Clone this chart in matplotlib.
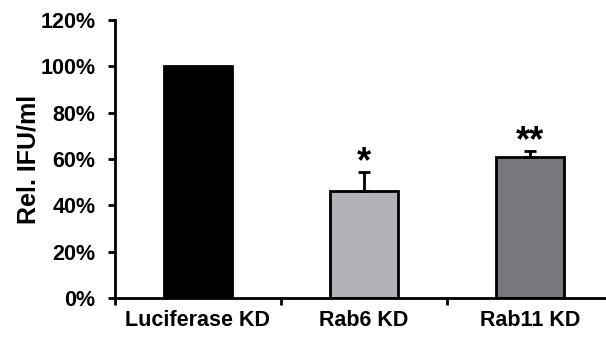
import numpy as np
import matplotlib.pyplot as plt
from matplotlib.ticker import FixedLocator, FuncFormatter

# relative infectious units per ml after knockdown
groups = ['Luciferase KD', 'Rab6 KD', 'Rab11 KD']
values = [1.00, 0.46, 0.61]
errors = [0.0, 0.083, 0.026]
stars = ['', '*', '**']
colors = ['#000000', '#b1b3b6', '#77787b']

plt.rcParams['font.family'] = ['Liberation Sans', 'DejaVu Sans']
plt.rcParams['font.weight'] = 'bold'

fig = plt.figure(figsize=(6.06, 3.4), dpi=100)
ax = fig.add_axes([115 / 606, 42 / 340, 498 / 606, 278 / 340])

x = np.arange(len(groups))
ax.bar(x, values, width=0.41, color=colors, edgecolor='black', linewidth=2, zorder=2)
for xi, v, e, s in zip(x, values, errors, stars):
    if e > 0:
        ax.errorbar(xi, v, yerr=[[0], [e]], fmt='none', ecolor='black',
                    elinewidth=2, capsize=4, capthick=2, zorder=3)
    if s:
        ax.text(xi, v + e - 0.035, s, ha='center', va='bottom',
                fontsize=26, fontweight='bold')

ax.set_xlim(-0.5, 2.5)
ax.set_ylim(0, 1.2)
ax.set_yticks(np.arange(0, 1.21, 0.2))
ax.yaxis.set_major_formatter(FuncFormatter(lambda v, p: f'{v * 100:.0f}%'))
ax.set_xticks(x)
ax.set_xticklabels(groups)
ax.xaxis.set_minor_locator(FixedLocator([-0.5, 0.5, 1.5]))
ax.tick_params(axis='x', which='major', length=0, pad=9, labelsize=15.5)
ax.tick_params(axis='x', which='minor', length=5, width=2, direction='out')
ax.tick_params(axis='y', length=5, width=2, direction='out', labelsize=15.5, pad=9)
ax.set_ylabel('Rel. IFU/ml', fontsize=18, fontweight='bold', labelpad=0)

for side in ['top', 'right']:
    ax.spines[side].set_visible(False)
for side in ['left', 'bottom']:
    ax.spines[side].set_linewidth(2)

fig.savefig('out.png', dpi=100)
